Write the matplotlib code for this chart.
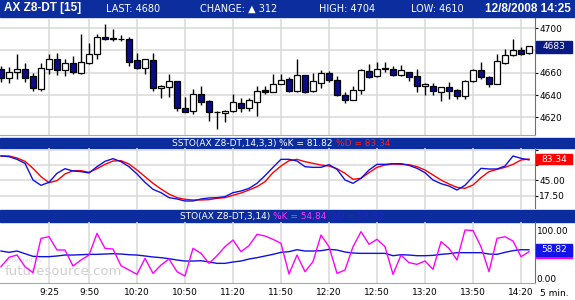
import numpy as np
import matplotlib.pyplot as plt
import matplotlib.transforms as mtransforms
from matplotlib.patches import Rectangle

W, H = 575, 300

# 5 minute bars, 8:55 .. 14:25
opens = [4663, 4655, 4661, 4663, 4657, 4645, 4663, 4672, 4662, 4669,
         4660, 4669, 4677, 4692, 4690.8, 4690.6, 4690, 4671, 4664, 4671,
         4646, 4647, 4652.5, 4628, 4626, 4641, 4635, 4625.2, 4623.6, 4625.4,
         4633, 4628, 4634, 4644.5, 4643, 4650, 4654, 4643.3, 4657.6, 4643.3,
         4650.7, 4659.7, 4653.1, 4639.7, 4635.8, 4644.2, 4661.2, 4656.7, 4663.8, 4663.6,
         4657.6, 4660.6, 4656.7, 4647.8, 4648.4, 4642.4, 4647.2, 4644.2, 4638.8, 4652.2,
         4662.7, 4656.4, 4649.9, 4668.7, 4676.1, 4680.6, 4677.6]
highs = [4666, 4665, 4677, 4669, 4660, 4669, 4677, 4678, 4672, 4675,
         4695, 4687, 4695, 4704, 4699, 4694, 4692, 4678, 4672.5, 4678,
         4649, 4659, 4653, 4638.5, 4645, 4648, 4636, 4626, 4626.3, 4640.6,
         4637, 4637.4, 4648, 4648, 4659, 4659, 4656, 4672, 4658, 4660,
         4662.7, 4661.2, 4656.7, 4642.7, 4648, 4663.6, 4668, 4669.3, 4669.3, 4665.7,
         4667.2, 4661, 4663.3, 4650.5, 4650.7, 4647.2, 4651.6, 4645, 4653.7, 4663,
         4669.6, 4657, 4676.7, 4681.5, 4690.4, 4682.7, 4684]
lows = [4652, 4651, 4654, 4652, 4644, 4644, 4659, 4658, 4657, 4659,
        4659, 4668, 4672, 4689, 4688, 4688, 4666, 4663, 4659, 4644,
        4637, 4638, 4626, 4624.5, 4623, 4631, 4617, 4610, 4615.5, 4625,
        4625, 4625.4, 4621, 4641, 4643, 4649.6, 4643, 4643, 4642, 4642.7,
        4646.3, 4651.3, 4639.5, 4633, 4635.2, 4641.2, 4655.5, 4656.5, 4660.3, 4656.7,
        4656.7, 4652.2, 4642.4, 4640.3, 4640.3, 4634.9, 4636.7, 4636.7, 4636.7, 4651.3,
        4654.6, 4647.2, 4649.6, 4668, 4674.6, 4676.1, 4676.7]
closes = [4655, 4661, 4663, 4655, 4646, 4664, 4672, 4662, 4669, 4661,
          4670, 4677, 4692, 4690, 4690.3, 4690.1, 4670, 4664, 4672, 4646,
          4648, 4653, 4628, 4624.5, 4641, 4634, 4624.5, 4624.6, 4625.4, 4633.4,
          4628, 4636, 4644, 4643, 4650, 4653.4, 4643.3, 4657.6, 4642.7, 4652.2,
          4659.7, 4653.4, 4639.7, 4636, 4644.2, 4662, 4655.8, 4663.6, 4663.3, 4657.6,
          4662.1, 4655.8, 4647.8, 4650.1, 4643.3, 4646.9, 4643.3, 4639.4, 4652.2, 4662.7,
          4655.8, 4649.9, 4670.1, 4676.1, 4680, 4676.7, 4683.6]

ssto_k = [88.8, 87.6, 82.8, 75.6, 45.7, 36.1, 41.5, 57.7, 66.0, 61.9,
          60.7, 58.3, 69.6, 79.2, 84.0, 78.6, 69.6, 56.5, 41.5, 28.9,
          22.9, 14.0, 11.6, 8.0, 8.0, 11.6, 13.4, 14.0, 15.8, 22.9,
          25.9, 30.7, 39.7, 53.5, 68.4, 82.8, 82.8, 79.8, 69.6, 68.4,
          68.4, 73.2, 64.8, 45.7, 39.7, 48.7, 63.6, 73.8, 73.8, 75.0,
          75.0, 72.0, 66.6, 58.9, 45.7, 39.1, 34.9, 27.7, 36.1, 51.7,
          66.6, 65.4, 65.4, 70.8, 88.8, 84.6, 81.82]
ssto_d = [88.8, 88.8, 85.2, 79.2, 66.6, 51.7, 40.9, 44.5, 56.5, 62.4,
          62.4, 59.4, 66.0, 73.8, 79.8, 80.4, 74.4, 63.6, 51.7, 39.7,
          29.5, 20.5, 14.0, 11.0, 9.8, 9.8, 10.4, 12.8, 14.0, 18.2,
          22.3, 27.7, 33.7, 42.7, 58.9, 70.8, 80.4, 82.8, 78.6, 75.6,
          72.6, 70.8, 66.0, 57.7, 46.9, 48.7, 58.9, 68.4, 72.6, 74.4,
          73.8, 73.2, 69.6, 63.6, 54.7, 45.7, 38.5, 32.5, 30.7, 36.7,
          49.9, 60.7, 64.8, 68.4, 73.8, 81.6, 83.34]

sto_k = [23.6, 43.1, 47.9, 23.6, 11.1, 82.7, 86.1, 58.4, 58.4, 25.0,
         37.5, 47.9, 93.1, 61.8, 60.4, 25.7, 16.7, 7.7, 41.0, 9.7,
         27.1, 39.6, 13.2, 4.2, 61.8, 51.4, 30.6, 46.5, 65.3, 79.2,
         54.9, 67.4, 91.0, 87.5, 80.6, 72.2, 8.4, 47.9, 13.2, 34.1,
         89.6, 65.3, 9.7, 16.7, 65.3, 96.5, 70.2, 80.6, 65.3, 7.7,
         47.9, 32.0, 28.5, 35.4, 18.1, 75.7, 61.8, 37.5, 100.0, 99.0,
         65.3, 13.2, 82.7, 86.1, 77.1, 44.5, 54.84]
sto_d = [56.3, 53.5, 56.3, 50.7, 45.2, 44.5, 44.5, 45.9, 47.9, 47.9,
         48.6, 49.3, 49.3, 50.0, 50.7, 50.0, 48.6, 47.9, 45.9, 43.8,
         42.4, 40.3, 37.5, 35.4, 35.4, 36.1, 33.4, 30.6, 30.6, 33.4,
         35.4, 39.6, 42.4, 45.9, 49.3, 53.5, 54.9, 59.0, 56.3, 56.3,
         57.0, 59.7, 58.4, 54.2, 52.1, 51.4, 51.4, 51.4, 51.4, 46.5,
         48.6, 47.9, 46.5, 46.5, 47.2, 49.3, 50.7, 52.8, 52.8, 52.8,
         52.8, 50.0, 49.3, 53.5, 57.0, 59.0, 58.82]

time_idx = [6, 11, 17, 23, 29, 35, 41, 47, 53, 59, 65]
time_labels = ['9:25', '9:50', '10:20', '10:50', '11:20', '11:50',
               '12:20', '12:50', '13:20', '13:50', '14:20']

price_ticks = [4620, 4640, 4660, 4680, 4700]
price_labels = ['4620', '4640', '4660', '', '4700']   # 4680 sits under the last-price box
ssto_ticks = [17.5, 45, 72.5, 100]
ssto_labels = ['17.50', '45.00', '', '']             # 72.50 sits under the %D box
sto_ticks = [0, 100]
sto_labels = ['0.00', '100.00']

BAR_BLUE = '#0C2D9E'
NAVY = '#0B0B84'
GRID = '#D9D9D9'

fig = plt.figure(figsize=(W / 100, H / 100), dpi=100)
fig.patch.set_facecolor('white')


def px_axes(x0, y0, x1, y1):
    return fig.add_axes([x0 / W, 1 - y1 / H, (x1 - x0) / W, (y1 - y0) / H])


def fig_rect(x0, y0, x1, y1, color):
    fig.add_artist(Rectangle((x0 / W, 1 - y1 / H), (x1 - x0) / W, (y1 - y0) / H,
                             transform=fig.transFigure, color=color, zorder=0))


def style(ax, yticks, ylabels, ylim):
    ax.set_xlim(-0.125, 66.75)
    ax.set_ylim(*ylim)
    ax.set_xticks(time_idx)
    ax.yaxis.tick_right()
    ax.set_yticks(yticks)
    ax.set_yticklabels(ylabels)
    ax.tick_params(axis='y', length=2, width=0.8, pad=1.2, labelsize=6.5)
    ax.tick_params(axis='x', length=0, labelbottom=False)
    for s in ['top', 'left', 'bottom']:
        ax.spines[s].set_visible(False)
    ax.spines['right'].set_color('#707070')
    ax.grid(True, axis='x', color=GRID, lw=1.1)
    ax.set_axisbelow(True)
    ax.patch.set_alpha(0)


def value_box(ax, value, half, color, text):
    tr = mtransforms.blended_transform_factory(ax.transAxes, ax.transData)
    ax.add_patch(Rectangle((536 / 535, value - half), 36 / 535, 2 * half,
                           transform=tr, color=color, clip_on=False, zorder=5))
    if text:
        ax.text(554 / 535, value, text, transform=tr, color='white', fontsize=6.5,
                ha='center', va='center', clip_on=False, zorder=6)


def title_bar(y0, y1, x, pieces):
    # blue strip with a multi-coloured caption
    fig_rect(0, y0, 575, y1, BAR_BLUE)
    yc = (y0 + y1) / 2
    prev = fig.text(x / W, 1 - (yc + 4.8) / H, pieces[0][0], color=pieces[0][1],
                    fontsize=6.5, va='bottom')
    for txt, col in pieces[1:]:
        prev = fig.add_artist(plt.Annotation(txt, xy=(1, 0), xycoords=prev, color=col,
                                             fontsize=6.5, va='bottom', ha='left'))


# ---- header ----
fig_rect(0, 0, 575, 17, BAR_BLUE)
hy = 1 - 8.5 / H
fig.text(4 / W, hy, 'AX Z8-DT [15]', color='white', fontsize=8.5, fontweight='bold',
         family='Liberation Sans', va='center')
fig.text(106 / W, hy, 'LAST: 4680', color='white', fontsize=7, va='center')
fig.text(200 / W, hy, 'CHANGE: \u25B2 312', color='white', fontsize=7, va='center')
fig.text(319 / W, hy, 'HIGH: 4704', color='white', fontsize=7, va='center')
fig.text(411 / W, hy, 'LOW: 4610', color='white', fontsize=7, va='center')
fig.text(571 / W, hy, '12/8/2008 14:25', color='white', fontsize=8.5, fontweight='bold',
         family='Liberation Sans', va='center', ha='right')

# ---- price panel ----
ax_p = px_axes(0, 17.5, 535, 134.7)
style(ax_p, price_ticks, price_labels, (4604.5, 4709.4))
ax_p.grid(True, axis='y', color=GRID, lw=1.1)
ax_p.spines['bottom'].set_visible(True)
ax_p.spines['bottom'].set_color('#A8A8A8')
idx = np.arange(len(opens))
o = np.array(opens)
c = np.array(closes)
up = c >= o
ax_p.vlines(idx, lows, highs, color='black', lw=1.0, zorder=2)
ax_p.bar(idx, np.maximum(np.abs(c - o), 0.5), bottom=np.minimum(o, c), width=0.72,
         color=np.where(up, 'white', NAVY), edgecolor='black', linewidth=0.9, zorder=3)
value_box(ax_p, 4683, 5.2, '#0A1A84', '4683')

# ---- SSTO panel ----
title_bar(138.3, 148.3, 172, [('SSTO(AX Z8-DT,14,3,3) ', 'white'), ('%K = 81.82 ', 'white'),
                              ('%D = 83.34', '#FF2020')])
ax_s = px_axes(0, 148.3, 535, 208.5)
style(ax_s, ssto_ticks, ssto_labels, (-5.5, 102.6))
ax_s.grid(True, axis='y', color=GRID, lw=1.1)
ax_s.plot(idx, ssto_d, color='#FF0000', lw=1.0, zorder=3)
ax_s.plot(idx, ssto_k, color='#1010E8', lw=1.0, zorder=4)
value_box(ax_s, 83.34, 9.0, '#FF0000', '83.34')

# ---- STO panel ----
title_bar(209.5, 222, 180, [('STO(AX Z8-DT,3,14) ', 'white'), ('%K = 54.84 ', '#FF30FF'),
                            ('%D = 58.82', '#2424C0')])
ax_t = px_axes(0, 222, 535, 282.5)
style(ax_t, sto_ticks, sto_labels, (-9.3, 116.7))
ax_t.tick_params(axis='y', length=0)
ax_t.spines['bottom'].set_visible(True)
ax_t.spines['bottom'].set_color('#A8A8A8')
ax_t.set_xticklabels(time_labels)
ax_t.tick_params(axis='x', labelbottom=True, labelsize=6.5, pad=4)
ax_t.text(0.012, 0.34, 'Powered by', transform=ax_t.transAxes, fontsize=4.5,
          color='#DADADA', zorder=0)
ax_t.text(0.008, 0.18, 'futuresource.com', transform=ax_t.transAxes, fontsize=9.5,
          color='#CFCFCF', va='center', zorder=0)
ax_t.plot(idx, sto_d, color='#1010E0', lw=1.0, zorder=3)
ax_t.plot(idx, sto_k, color='#FF00FF', lw=1.0, zorder=4)
value_box(ax_t, 54.84, 12.3, '#FF00FF', '')
value_box(ax_t, 58.82, 12.3, '#1414E6', '58.82')
fig.text(540 / W, 1 - 293 / H, '5 min.', fontsize=6.5, va='center')

fig.savefig('out.png', dpi=100)
